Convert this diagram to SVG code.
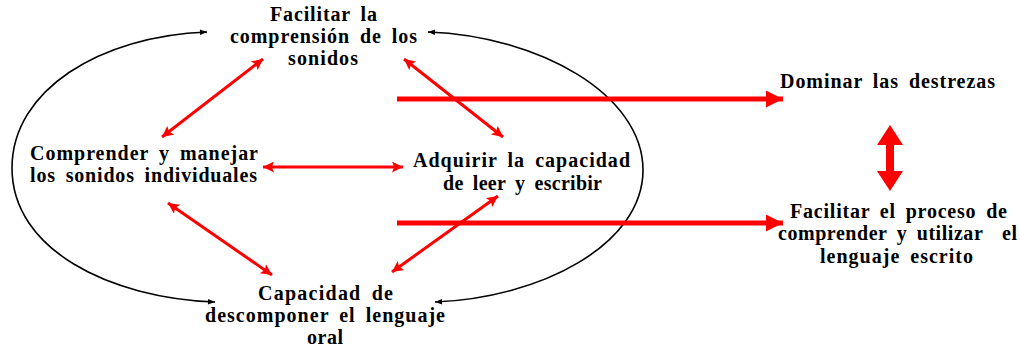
<svg xmlns="http://www.w3.org/2000/svg" width="1020" height="351" viewBox="0 0 1020 351">
<defs>
<marker id="blk" viewBox="0 0 10 10" refX="10" refY="5" markerWidth="10" markerHeight="7" markerUnits="userSpaceOnUse" orient="auto-start-reverse"><path d="M0,1 L10,5 L0,9 Z" fill="#000"/></marker>
<marker id="red" viewBox="0 0 10 10" refX="10" refY="5" markerWidth="13" markerHeight="11" markerUnits="userSpaceOnUse" orient="auto-start-reverse"><path d="M0,0 L10,5 L0,10 L2,5 Z" fill="#f00"/></marker>
<marker id="redbig" viewBox="0 0 10 10" refX="10" refY="5" markerWidth="22" markerHeight="17" markerUnits="userSpaceOnUse" orient="auto"><path d="M0,0 L10,5 L0,10 Z" fill="#f00"/></marker>
</defs>
<style>
text{font-family:"Liberation Serif","Times New Roman",serif;font-weight:bold;font-size:20px;fill:#000;text-anchor:middle;word-spacing:4px}
.curve{fill:none;stroke:#000;stroke-width:1.6}
.thin{fill:none;stroke:#f00;stroke-width:3}
.thick{fill:none;stroke:#f00;stroke-width:5}
</style>
<rect width="1020" height="351" fill="#fff"/>
<g id="connectors">
<path class="curve" d="M207,32 C100,36 12,90 12,168 C12,250 110,298 215,302" marker-start="url(#blk)" marker-end="url(#blk)"/>
<path class="curve" d="M428,32 C540,36 643,95 643,170 C643,245 540,298 435,302" marker-start="url(#blk)" marker-end="url(#blk)"/>
<line class="thin" x1="263" y1="59" x2="162" y2="137" marker-start="url(#red)" marker-end="url(#red)"/>
<line class="thin" x1="404" y1="59" x2="503" y2="137" marker-start="url(#red)" marker-end="url(#red)"/>
<line class="thin" x1="263" y1="167" x2="403" y2="167" marker-start="url(#red)" marker-end="url(#red)"/>
<line class="thin" x1="168" y1="203" x2="272" y2="275" marker-start="url(#red)" marker-end="url(#red)"/>
<line class="thin" x1="498" y1="196" x2="392" y2="272" marker-start="url(#red)" marker-end="url(#red)"/>
<line class="thick" x1="397" y1="99" x2="783" y2="99" marker-end="url(#redbig)"/>
<line class="thick" x1="397" y1="223" x2="783" y2="223" marker-end="url(#redbig)"/>
<path d="M890,125 L903,145 L894,145 L894,171 L903,171 L890,191 L877,171 L886,171 L886,145 L877,145 Z" fill="#f00"/>
</g>
<g id="n-facilitar-comprension">
<text x="323.5" y="21" textLength="107" lengthAdjust="spacing">Facilitar la</text>
<text x="323.5" y="43" textLength="187" lengthAdjust="spacing">comprensión de los</text>
<text x="323" y="65" textLength="70" lengthAdjust="spacing">sonidos</text>
</g>
<g id="n-comprender-manejar">
<text x="144" y="160" textLength="228" lengthAdjust="spacing">Comprender y manejar</text>
<text x="143.5" y="182" textLength="227" lengthAdjust="spacing">los sonidos individuales</text>
</g>
<g id="n-adquirir">
<text x="521.5" y="167" textLength="217" lengthAdjust="spacing">Adquirir la capacidad</text>
<text x="522.5" y="190" textLength="159" lengthAdjust="spacing">de leer y escribir</text>
</g>
<g id="n-descomponer">
<text x="325.5" y="300" textLength="135" lengthAdjust="spacing">Capacidad de</text>
<text x="325" y="322" textLength="240" lengthAdjust="spacing">descomponer el lenguaje</text>
<text x="325" y="344" textLength="36" lengthAdjust="spacing">oral</text>
</g>
<g id="n-dominar">
<text x="887.5" y="88" textLength="215" lengthAdjust="spacing">Dominar las destrezas</text>
</g>
<g id="n-facilitar-proceso">
<text x="898.5" y="218" textLength="217" lengthAdjust="spacing">Facilitar el proceso de</text>
<text x="897.5" y="240" textLength="239" lengthAdjust="spacing" xml:space="preserve">comprender y utilizar  el</text>
<text x="896.5" y="263" textLength="153" lengthAdjust="spacing">lenguaje escrito</text>
</g>
</svg>
